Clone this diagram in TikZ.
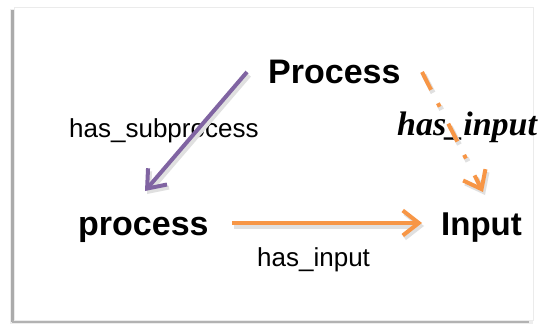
\documentclass[tikz,border=0pt]{standalone}
\usepackage{fontspec}
\setmainfont{Liberation Sans}
\newfontfamily\serifit{Liberation Serif}
\usetikzlibrary{arrows.meta}
\definecolor{opurple}{HTML}{8064A2}
\definecolor{oorange}{HTML}{F79646}
\begin{document}
\begin{tikzpicture}[x=1pt,y=-1pt,
  concept/.style={font=\fontsize{34}{38}\selectfont\bfseries, inner sep=0pt, anchor=base west},
  rel/.style={font=\fontsize{26}{30}\selectfont, inner sep=0pt, anchor=base west},
  relit/.style={font=\serifit\fontsize{34}{38}\selectfont\bfseries\itshape, inner sep=0pt, anchor=base west},
  tip/.style={-{Straight Barb[length=16pt,width=25pt,line width=4pt]}},
  conn/.style={line width=4pt, tip,
    preaction={draw=black!12, line width=5pt, transform canvas={shift={(2pt,-3pt)}}}},
  dashconn/.style={line width=4pt, tip, dash pattern=on 20pt off 15pt on 4pt off 19pt,
    preaction={draw=black!12, line width=5pt, dash pattern=on 20pt off 15pt on 4pt off 19pt, transform canvas={shift={(2pt,-3pt)}}}}
]
\useasboundingbox (0,0) rectangle (545,324);
% frame
\fill[black!7] (10,9) rectangle (533,324);
\fill[black!33] (11,10) rectangle (14,322);
\fill[black!30] (12,320) rectangle (529,323);
\fill[white, draw=black!8, line width=0.6pt] (14,7) rectangle (533,320);
% nodes
\node[concept] (P) at (268,83) {Process};
\node[concept] (p) at (78,235) {process};
\node[concept, font=\fontsize{33}{38}\selectfont\bfseries] (I) at (441,235) {Input};
\node[rel] (hs) at (69,137) {has\_subprocess};
\node[rel] (hi) at (257,266) {has\_input};
\node[relit] (hii) at (397,135) {has\_input};
% connectors
\coordinate (a1) at (247,72);
\coordinate (a2) at (145,191);
\draw[conn, draw=opurple] (a1) -- (a2);
\coordinate (b1) at (232,223);
\coordinate (b2) at (422,223);
\draw[conn, draw=oorange] (b1) -- (b2);
\coordinate (c1) at (422,72);
\coordinate (c2) at (483,192);
\draw[dashconn, draw=oorange] (c1) -- (c2);
\end{tikzpicture}
\end{document}
